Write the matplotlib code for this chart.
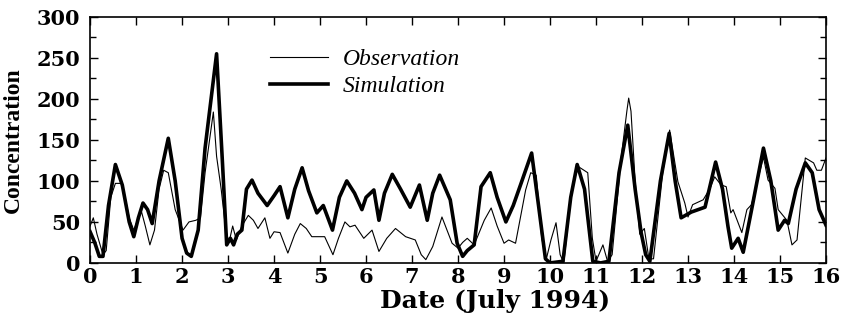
import matplotlib
matplotlib.use("Agg")
import matplotlib.pyplot as plt
from matplotlib.ticker import MultipleLocator

# Observation (thin line)
obs_day = [0.0, 0.07, 0.15, 0.28, 0.35, 0.45, 0.55, 0.7, 0.85, 0.95, 1.05, 1.12, 1.2, 1.3, 1.4,
           1.5, 1.6, 1.7, 1.85, 2.02, 2.15, 2.3, 2.4, 2.5, 2.68, 2.75, 2.85, 2.95, 3.02, 3.1,
           3.18, 3.3, 3.44, 3.55, 3.65, 3.8, 3.91, 4.0, 4.13, 4.3, 4.45, 4.57, 4.7, 4.82, 5.1,
           5.28, 5.4, 5.54, 5.65, 5.76, 5.95, 6.13, 6.28, 6.45, 6.64, 6.86, 7.07, 7.2, 7.3,
           7.45, 7.65, 7.87, 8.0, 8.1, 8.2, 8.35, 8.57, 8.72, 8.85, 9.0, 9.1, 9.25, 9.47, 9.58,
           9.7, 9.82, 9.92, 10.02, 10.13, 10.22, 10.3, 10.45, 10.6, 10.82, 10.92, 11.0, 11.15,
           11.25, 11.35, 11.55, 11.67, 11.71, 11.76, 11.85, 11.95, 12.05, 12.15, 12.25, 12.45,
           12.6, 12.78, 12.93, 13.0, 13.1, 13.33, 13.48, 13.58, 13.72, 13.83, 13.93, 13.98,
           14.17, 14.28, 14.38, 14.64, 14.74, 14.89, 14.96, 15.15, 15.26, 15.37, 15.55, 15.73,
           15.8, 15.9, 16.0]
obs_val = [45, 55, 35, 10, 15, 80, 97, 97, 55, 40, 55, 62, 45, 22, 40,
           90, 113, 110, 65, 40, 50, 52, 55, 110, 184, 130, 90, 40, 25, 45,
           28, 45, 58, 52, 42, 55, 30, 38, 37, 12, 35, 48, 42, 32, 32,
           10, 30, 50, 44, 46, 30, 40, 14, 30, 42, 32, 28, 10, 4,
           20, 56, 24, 18, 25, 30, 22, 52, 67, 45, 24, 28, 24, 89, 110,
           107, 30, 5, 28, 49, 10, 0, 80, 118, 110, 30, 2, 22,
           2, 10, 130, 185, 201, 185, 100, 35, 42, 5, 5, 110,
           162, 99, 73, 56, 71, 77, 91, 105, 95, 93, 61, 65,
           37, 65, 71, 129, 101, 91, 65, 52, 22, 28, 128, 122,
           113, 113, 128]

# Simulation (thick line)
sim_day = [0.0, 0.1, 0.2, 0.28, 0.4, 0.55, 0.7, 0.85, 0.95, 1.05, 1.15, 1.25, 1.35, 1.5, 1.7,
           1.85, 2.0, 2.1, 2.2, 2.35, 2.5, 2.75, 2.88, 2.97, 3.05, 3.12, 3.2, 3.3, 3.4, 3.52,
           3.65, 3.85, 4.0, 4.13, 4.3, 4.45, 4.61, 4.75, 4.93, 5.07, 5.27, 5.42, 5.58, 5.75,
           5.91, 6.0, 6.17, 6.28, 6.4, 6.57, 6.75, 6.96, 7.16, 7.33, 7.45, 7.6, 7.83, 7.98,
           8.1, 8.2, 8.35, 8.5, 8.7, 8.85, 9.04, 9.2, 9.37, 9.6, 9.75, 9.9, 10.0, 10.28,
           10.45, 10.59, 10.75, 10.93, 11.1, 11.28, 11.5, 11.69, 11.85, 11.98, 12.08, 12.17,
           12.4, 12.59, 12.72, 12.85, 13.07, 13.37, 13.6, 13.75, 13.87, 13.95, 14.09, 14.2,
           14.4, 14.64, 14.8, 14.96, 15.1, 15.18, 15.35, 15.55, 15.7, 15.85, 16.0]
sim_val = [38, 25, 8, 8, 70, 120, 95, 50, 32, 55, 73, 65, 48, 100, 152,
           100, 30, 12, 8, 40, 140, 255, 120, 22, 30, 22, 35, 40, 90, 101,
           85, 70, 82, 93, 55, 90, 116, 88, 61, 70, 40, 80, 100, 85,
           65, 80, 89, 52, 85, 108, 90, 68, 95, 52, 85, 107, 77, 24,
           8, 15, 22, 93, 110, 80, 50, 70, 97, 134, 70, 5, 0, 2,
           80, 120, 90, 2, 0, 2, 110, 168, 90, 37, 10, 2,
           100, 158, 100, 55, 62, 68, 123, 90, 44, 18, 30, 13,
           70, 140, 100, 40, 52, 48, 90, 122, 110, 65, 46]

x_ticks = list(range(0, 17))
y_ticks = [0, 50, 100, 150, 200, 250, 300]

plt.rcParams["font.family"] = "DejaVu Serif"

fig = plt.figure(figsize=(8.42, 3.25), dpi=100)
ax = fig.add_axes([0.107, 0.191, 0.874, 0.757])

ax.plot(obs_day, obs_val, color="black", linewidth=0.8, label="Observation")
ax.plot(sim_day, sim_val, color="black", linewidth=2.6, label="Simulation")

ax.set_xlim(0, 16)
ax.set_ylim(0, 300)
ax.set_xticks(x_ticks)
ax.set_yticks(y_ticks)
ax.yaxis.set_minor_locator(MultipleLocator(25))
ax.tick_params(which="both", direction="in", top=True, right=True, labelsize=15)
ax.tick_params(axis="x", pad=3)
ax.tick_params(axis="y", pad=7)
ax.tick_params(which="major", length=6, width=1)
ax.tick_params(which="minor", length=4, width=1)
for lbl in ax.get_xticklabels() + ax.get_yticklabels():
    lbl.set_fontweight("bold")
for s in ax.spines.values():
    s.set_linewidth(1.2)

ax.set_xlabel("Date (July 1994)", fontsize=18, fontweight="bold")
ax.xaxis.set_label_coords(0.55, -0.105)
ax.set_ylabel("Concentration", family="Liberation Serif", fontsize=17,
              fontweight="bold", labelpad=9)

leg = ax.legend(loc="upper left", bbox_to_anchor=(0.245, 0.87), frameon=False,
                prop={"family": "Liberation Serif", "style": "italic", "size": 17},
                handlelength=2.45, handletextpad=0.6, labelspacing=0.23,
                borderpad=0, borderaxespad=0)

fig.savefig("out.png", dpi=100)
